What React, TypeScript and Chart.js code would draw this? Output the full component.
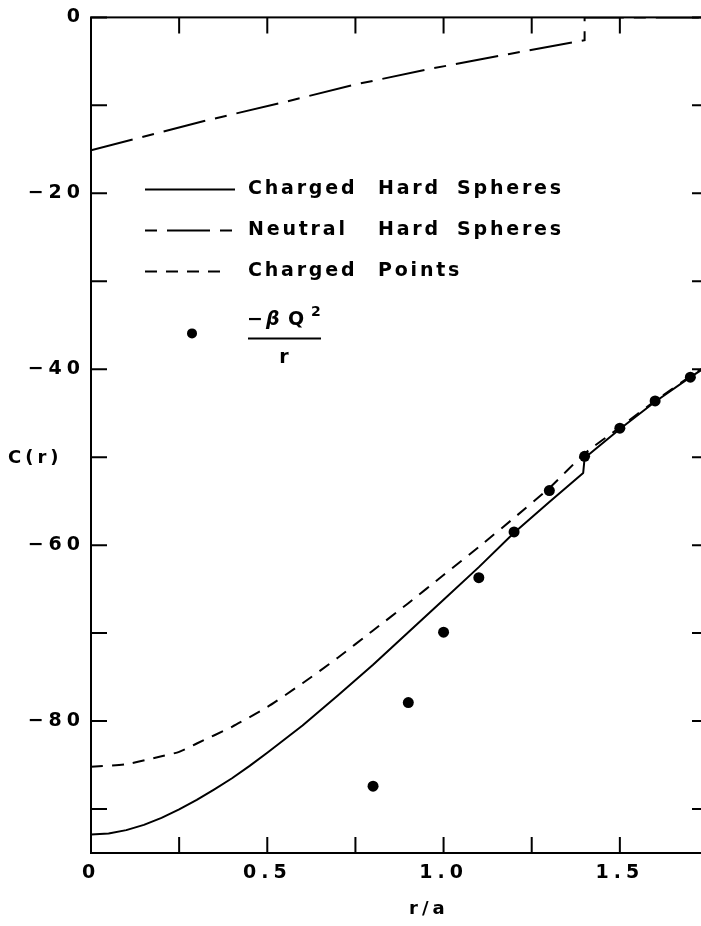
import { useEffect, useRef } from 'react';
import { Chart, registerables } from 'chart.js';

Chart.register(...registerables);

// ---- data ----
const R_HARD = [0, 0.05, 0.1, 0.15, 0.2, 0.25, 0.3, 0.35, 0.4, 0.45, 0.5, 0.6, 0.7, 0.8, 0.9, 1.0, 1.1, 1.2, 1.3, 1.396, 1.4, 1.5, 1.6, 1.7, 1.75];
const C_HARD = [-92.9, -92.78, -92.4, -91.8, -91.0, -90.05, -88.96, -87.76, -86.5, -85.1, -83.6, -80.5, -77.1, -73.6, -69.9, -66.2, -62.5, -58.6, -55.1, -51.8, -50.1, -46.8, -43.7, -40.9, -39.6];

const R_NEUTRAL = [0, 0.318, 0.535, 0.753, 0.97, 1.187, 1.4, 1.4, 1.75];
const C_NEUTRAL = [-15.1, -11.8, -9.76, -7.6, -5.79, -4.15, -2.6, 0, 0];

const R_POINTS = [0, 0.1, 0.2, 0.25, 0.3, 0.4, 0.5, 0.6, 0.7, 0.8, 0.9, 1.0, 1.1, 1.2, 1.3, 1.4, 1.5, 1.6, 1.7, 1.75];
const C_POINTS = [-85.2, -84.9, -84.0, -83.5, -82.55, -80.65, -78.4, -75.7, -72.8, -69.7, -66.6, -63.4, -60.2, -56.9, -53.5, -49.6, -46.6, -43.6, -40.8, -39.5];

const R_DOTS = [0.8, 0.9, 1.0, 1.1, 1.2, 1.3, 1.4, 1.5, 1.6, 1.7];
const C_DOTS = [-87.4, -77.9, -69.9, -63.7, -58.5, -53.8, -49.9, -46.7, -43.6, -40.9];

const LABELS = ['Charged Hard Spheres', 'Neutral Hard Spheres', 'Charged Points'];
const Y_TITLE = 'C(r)';
const X_TITLE = 'r/a';

const X_MIN = 0, X_MAX = 1.75, X_STEP = 0.25;
const Y_MIN = -95, Y_MAX = 0, Y_STEP = 10;

const FONT = '"DejaVu Sans", sans-serif';

const toXY = (xs: number[], ys: number[]) => xs.map((x, i) => ({ x, y: ys[i] }));

const decorPlugin = {
  id: 'decor',
  beforeDraw(chart: any) {
    chart.ctx.letterSpacing = '5px';
  },
  afterDraw(chart: any) {
    const ctx = chart.ctx as CanvasRenderingContext2D & { letterSpacing: string };
    const { left, right, top, bottom } = chart.chartArea;
    const xs = chart.scales.x;
    const ys = chart.scales.y;
    ctx.save();
    ctx.strokeStyle = '#000';
    ctx.fillStyle = '#000';
    ctx.lineWidth = 2;
    ctx.setLineDash([]);
    // frame
    ctx.strokeRect(left, top, right - left, bottom - top);
    // inward ticks
    const TL = 16;
    ctx.beginPath();
    xs.ticks.forEach((t: any) => {
      const p = xs.getPixelForValue(t.value);
      ctx.moveTo(p, bottom);
      ctx.lineTo(p, bottom - TL);
      ctx.moveTo(p, top);
      ctx.lineTo(p, top + TL);
    });
    ys.ticks.forEach((t: any) => {
      if (Math.abs(t.value % 10) > 1e-9) return;
      const p = ys.getPixelForValue(t.value);
      ctx.moveTo(left, p);
      ctx.lineTo(left + TL, p);
      ctx.moveTo(right, p);
      ctx.lineTo(right - TL, p);
    });
    ctx.stroke();

    // axis titles
    ctx.font = `bold 18px ${FONT}`;
    ctx.letterSpacing = '4px';
    ctx.textBaseline = 'middle';
    ctx.textAlign = 'left';
    ctx.fillText(Y_TITLE, 8, top + 441);
    ctx.fillText(X_TITLE, 409, bottom + 56);

    // legend
    const lx0 = left + 54;
    const tx = [left + 157, left + 287, left + 366];
    const rows = [top + 172, top + 213, top + 254];
    const ds = chart.data.datasets;
    const lineEnds = [lx0 + 90, lx0 + 87, lx0 + 75];
    ctx.font = `bold 19px ${FONT}`;
    rows.forEach((ry, i) => {
      const d = ds[i];
      ctx.setLineDash(d.borderDash || []);
      ctx.lineDashOffset = i === 1 ? 53 : 0;
      ctx.lineWidth = 2;
      ctx.beginPath();
      ctx.moveTo(lx0, ry);
      ctx.lineTo(lineEnds[i], ry);
      ctx.stroke();
      ctx.setLineDash([]);
      ctx.lineDashOffset = 0;
      ctx.letterSpacing = '2.8px';
      const words = String(d.label).split(' ');
      words.forEach((w, j) => ctx.fillText(w, tx[j], ry));
    });
    // dot entry
    const dy = top + 316;
    ctx.beginPath();
    ctx.arc(lx0 + 47, dy, 5, 0, Math.PI * 2);
    ctx.fill();
    const fx = tx[0];
    ctx.letterSpacing = '0px';
    ctx.font = `bold 19px ${FONT}`;
    ctx.fillText('\u2212', fx - 1, dy - 13);
    ctx.font = `italic bold 19px ${FONT}`;
    ctx.fillText('\u03B2', fx + 18, dy - 13);
    ctx.font = `bold 19px ${FONT}`;
    ctx.fillText('Q', fx + 40, dy - 13);
    ctx.font = `bold 14px ${FONT}`;
    ctx.fillText('2', fx + 63, dy - 21);
    ctx.beginPath();
    ctx.moveTo(fx, dy + 5);
    ctx.lineTo(fx + 73, dy + 5);
    ctx.stroke();
    ctx.font = `bold 19px ${FONT}`;
    ctx.textAlign = 'center';
    ctx.fillText('r', fx + 36, dy + 25);
    ctx.restore();
    ctx.letterSpacing = '0px';
  },
};

export default function App() {
  const ref = useRef<HTMLCanvasElement>(null);
  useEffect(() => {
    const canvas = ref.current;
    if (!canvas) return;
    const chart = new Chart(canvas, {
      type: 'line',
      data: {
        datasets: [
          {
            label: LABELS[0],
            data: toXY(R_HARD, C_HARD),
            borderColor: '#000',
            borderWidth: 2,
            pointRadius: 0,
            tension: 0,
            borderJoinStyle: 'round',
            fill: false,
          },
          {
            label: LABELS[1],
            data: toXY(R_NEUTRAL, C_NEUTRAL),
            borderColor: '#000',
            borderWidth: 2,
            borderDash: [43, 10, 12, 10],
            pointRadius: 0,
            tension: 0,
            fill: false,
          },
          {
            label: LABELS[2],
            data: toXY(R_POINTS, C_POINTS),
            borderColor: '#000',
            borderWidth: 2,
            borderDash: [12, 9],
            pointRadius: 0,
            tension: 0.2,
            fill: false,
          },
          {
            label: '-\u03B2Q\u00B2/r',
            data: toXY(R_DOTS, C_DOTS),
            showLine: false,
            pointRadius: 5.5,
            pointBackgroundColor: '#000',
            pointBorderWidth: 0,
            borderColor: '#000',
          },
        ],
      },
      options: {
        responsive: false,
        devicePixelRatio: 1,
        animation: false,
        events: [],
        layout: { padding: { left: 0, right: 12, top: 16, bottom: 0 } },
        plugins: { legend: { display: false }, tooltip: { enabled: false } },
        scales: {
          x: {
            type: 'linear',
            min: X_MIN,
            max: X_MAX,
            grid: { display: false, drawTicks: false },
            border: { display: false },
            afterFit: (s: any) => { s.height = 73; },
            ticks: {
              stepSize: X_STEP,
              padding: 9,
              color: '#000',
              font: { family: FONT, size: 19, weight: 'bold' },
              maxRotation: 0,
              autoSkip: false,
              callback: (v: any) => {
                const n = Number(v);
                if (Math.abs(n * 2 - Math.round(n * 2)) > 1e-9) return '';
                return n === 0 ? '0' : n.toFixed(1);
              },
            },
          },
          y: {
            type: 'linear',
            min: Y_MIN,
            max: Y_MAX,
            grid: { display: false, drawTicks: false },
            border: { display: false },
            afterFit: (s: any) => { s.width = 91; },
            ticks: {
              stepSize: Y_STEP,
              padding: 6,
              color: '#000',
              font: { family: FONT, size: 19, weight: 'bold' },
              autoSkip: false,
              callback: (v: any) => {
                const n = Number(v);
                if (Math.abs(n % 20) > 1e-9) return '';
                return n === 0 ? '0' : '\u2212' + Math.abs(n);
              },
            },
          },
        },
      },
      plugins: [decorPlugin],
    } as any);
    return () => chart.destroy();
  }, []);
  return (
    <div style={{ position: 'absolute', left: 0, top: 0, width: 701, height: 926, overflow: 'hidden', background: '#fff' }}>
      <canvas ref={ref} width={720} height={926} style={{ display: 'block', width: 720, height: 926 }} />
    </div>
  );
}
